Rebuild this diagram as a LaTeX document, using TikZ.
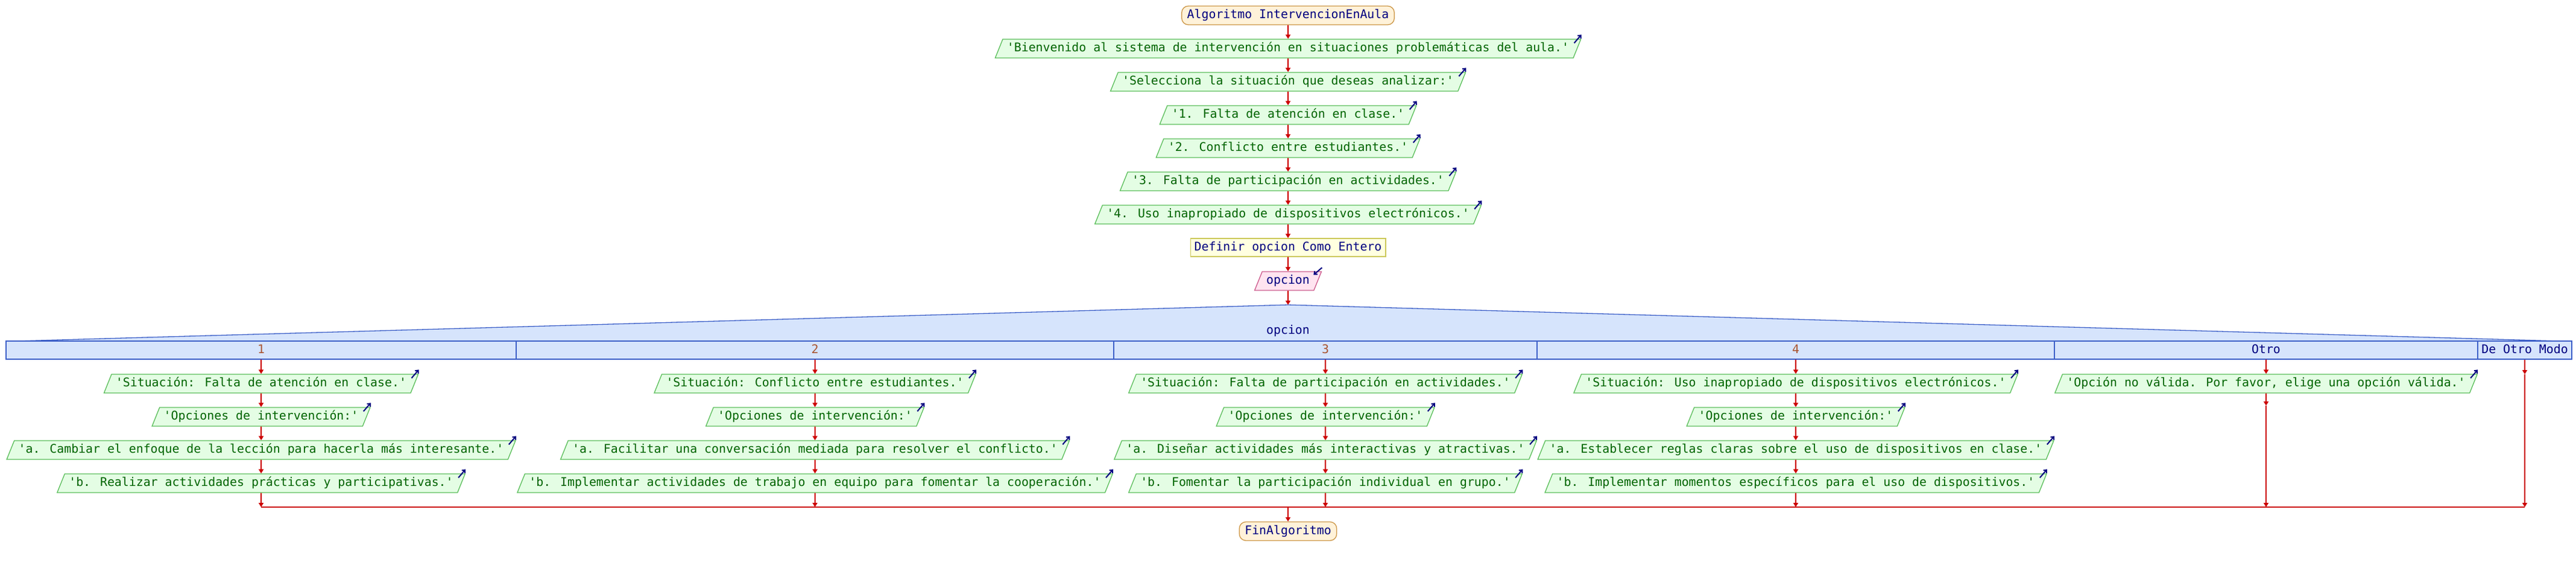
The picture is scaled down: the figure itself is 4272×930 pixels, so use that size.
\documentclass[tikz,border=0pt]{standalone}
\usepackage{fontspec}
\usetikzlibrary{shapes.geometric,arrows.meta,calc}
\newfontfamily\monofam{DejaVu Sans Mono}[Ligatures=TeXOff]
\definecolor{outfill}{RGB}{228,253,228}
\definecolor{outline}{RGB}{90,190,90}
\definecolor{outtext}{RGB}{0,100,0}
\definecolor{navy}{RGB}{0,0,128}
\definecolor{termfill}{RGB}{255,242,217}
\definecolor{termline}{RGB}{204,150,70}
\definecolor{deffill}{RGB}{255,255,224}
\definecolor{defline}{RGB}{204,200,90}
\definecolor{inpfill}{RGB}{255,228,240}
\definecolor{inpline}{RGB}{204,90,140}
\definecolor{swfill}{RGB}{214,228,252}
\definecolor{swline}{RGB}{60,95,200}
\definecolor{numcol}{RGB}{170,85,50}
\definecolor{flowred}{RGB}{204,0,0}
\tikzset{
  basefont/.style={font={\monofam\fontsize{19.85pt}{24pt}\selectfont}, text height=14pt, text depth=4pt},
  term/.style={basefont, draw=termline, fill=termfill, text=navy, line width=1.3pt, rounded corners=11pt, inner xsep=9pt, inner ysep=6.5pt},
  defbox/.style={basefont, draw=defline, fill=deffill, text=navy, line width=1.3pt, inner xsep=6.5pt, inner ysep=6pt},
  outbox/.style={basefont, trapezium, trapezium left angle=68, trapezium right angle=112, draw=outline, fill=outfill, text=outtext, line width=1.3pt, inner xsep=7pt, inner ysep=6.5pt},
  inpbox/.style={outbox, draw=inpline, fill=inpfill, text=navy},
  cell/.style={basefont, draw=swline, fill=swfill, line width=1.3pt, inner xsep=0pt, inner ysep=6pt},
  flow/.style={draw=flowred, line width=2pt, -{Triangle[length=7pt,width=8pt]}},
  merge/.style={draw=flowred, line width=2.2pt},
  outmark/.style={draw=navy, line width=2pt, -{Straight Barb[length=4pt,width=7pt]}},
}
\newcommand\omark[1]{\draw[outmark] ($(#1.top right corner)+(-12,7)$) -- ($(#1.top right corner)+(0,-7)$);}
\newcommand\imark[1]{\draw[outmark] ($(#1.top right corner)+(0,-6)$) -- ($(#1.top right corner)+(-14,6)$);}
\begin{document}
\begin{tikzpicture}[x=1pt,y=-1pt]
\useasboundingbox (0,0) rectangle (4272,930);
\fill[white] (0,0) rectangle (4272,930);
% main column
\node[term] (start) at (2136,25.5) {Algoritmo IntervencionEnAula};
\node[outbox] (m1) at (2136,80.5) {'Bienvenido al sistema de intervención en situaciones problemáticas del aula.'};
\node[outbox] (m2) at (2136,135.5) {'Selecciona la situación que deseas analizar:'};
\node[outbox] (m3) at (2136,190.5) {'1. Falta de atención en clase.'};
\node[outbox] (m4) at (2136,245.5) {'2. Conflicto entre estudiantes.'};
\node[outbox] (m5) at (2136,300.5) {'3. Falta de participación en actividades.'};
\node[outbox] (m6) at (2136,355.5) {'4. Uso inapropiado de dispositivos electrónicos.'};
\node[defbox] (def) at (2136,410) {Definir opcion Como Entero};
\node[inpbox] (inp) at (2136,465.5) {opcion};
\foreach \n in {m1,m2,m3,m4,m5,m6} {\omark{\n}}
\imark{inp}
\draw[flow] (start.south) -- (m1.north);
\draw[flow] (m1.south) -- (m2.north);
\draw[flow] (m2.south) -- (m3.north);
\draw[flow] (m3.south) -- (m4.north);
\draw[flow] (m4.south) -- (m5.north);
\draw[flow] (m5.south) -- (m6.north);
\draw[flow] (m6.south) -- (def.north);
\draw[flow] (def.south) -- (inp.north);
% switch header
\coordinate (sw) at (2136,505);
\fill[swfill] (10,565) -- (29,565) -- (sw) -- (4244,565) -- (4265,565) -- (4265,595) -- (10,595) -- cycle;
\draw[swline, line width=1.3pt] (29,565) -- (sw) -- (4244,565);
\draw[swline, line width=1.3pt] (10,565) -- (4265,565);
\node[basefont, text=navy, inner sep=0pt] (swv) at (2136,548) {opcion};
\node[cell, minimum width=846pt, text=numcol] (c1) at (433,580) {1};
\node[cell, minimum width=991pt, text=numcol] (c2) at (1351.5,580) {2};
\node[cell, minimum width=702pt, text=numcol] (c3) at (2198,580) {3};
\node[cell, minimum width=858pt, text=numcol] (c4) at (2978,580) {4};
\node[cell, minimum width=702pt, text=navy] (c5) at (3758,580) {Otro};
\node[cell, minimum width=156pt, text=navy] (c6) at (4187,580) {De Otro Modo};
\draw[flow] (inp.south) -- (sw);
% column 1
\node[outbox] (a1) at (433,635.5) {'Situación: Falta de atención en clase.'};
\node[outbox] (a2) at (433,690.5) {'Opciones de intervención:'};
\node[outbox] (a3) at (433,745.5) {'a. Cambiar el enfoque de la lección para hacerla más interesante.'};
\node[outbox] (a4) at (433,800.5) {'b. Realizar actividades prácticas y participativas.'};
% column 2
\node[outbox] (b1) at (1351.5,635.5) {'Situación: Conflicto entre estudiantes.'};
\node[outbox] (b2) at (1351.5,690.5) {'Opciones de intervención:'};
\node[outbox] (b3) at (1351.5,745.5) {'a. Facilitar una conversación mediada para resolver el conflicto.'};
\node[outbox] (b4) at (1351.5,800.5) {'b. Implementar actividades de trabajo en equipo para fomentar la cooperación.'};
% column 3
\node[outbox] (d1) at (2198,635.5) {'Situación: Falta de participación en actividades.'};
\node[outbox] (d2) at (2198,690.5) {'Opciones de intervención:'};
\node[outbox] (d3) at (2198,745.5) {'a. Diseñar actividades más interactivas y atractivas.'};
\node[outbox] (d4) at (2198,800.5) {'b. Fomentar la participación individual en grupo.'};
% column 4
\node[outbox] (f1) at (2978,635.5) {'Situación: Uso inapropiado de dispositivos electrónicos.'};
\node[outbox] (f2) at (2978,690.5) {'Opciones de intervención:'};
\node[outbox] (f3) at (2978,745.5) {'a. Establecer reglas claras sobre el uso de dispositivos en clase.'};
\node[outbox] (f4) at (2978,800.5) {'b. Implementar momentos específicos para el uso de dispositivos.'};
% otro
\node[outbox] (o1) at (3758,635.5) {'Opción no válida. Por favor, elige una opción válida.'};
\foreach \n in {a1,a2,a3,a4,b1,b2,b3,b4,d1,d2,d3,d4,f1,f2,f3,f4,o1} {\omark{\n}}
% flows in columns
\foreach \c/\k in {c1/a,c2/b,c3/d,c4/f} {
  \draw[flow] (\c.south) -- (\k1.north);
  \draw[flow] (\k1.south) -- (\k2.north);
  \draw[flow] (\k2.south) -- (\k3.north);
  \draw[flow] (\k3.south) -- (\k4.north);
}
\coordinate (e1) at (433,840);
\coordinate (e2) at (1351.5,840);
\coordinate (e3) at (2198,840);
\coordinate (e4) at (2978,840);
\coordinate (e5) at (3758,840);
\coordinate (e6) at (4187,840);
\coordinate (o2) at (3758,672);
\coordinate (o6) at (4187,620);
\coordinate (em) at (2136,840);
\draw[merge] (e1) -- (e6);
\draw[flow] (a4.south) -- (e1);
\draw[flow] (b4.south) -- (e2);
\draw[flow] (d4.south) -- (e3);
\draw[flow] (f4.south) -- (e4);
\draw[flow] (c5.south) -- (o1.north);
\draw[flow] (o1.south) -- (o2);
\draw[flow] (o2) -- (e5);
\draw[flow] (c6.south) -- (o6);
\draw[flow] (o6) -- (e6);
\node[term] (fin) at (2136,880) {FinAlgoritmo};
\draw[flow] (em) -- (fin.north);
\end{tikzpicture}
\end{document}
